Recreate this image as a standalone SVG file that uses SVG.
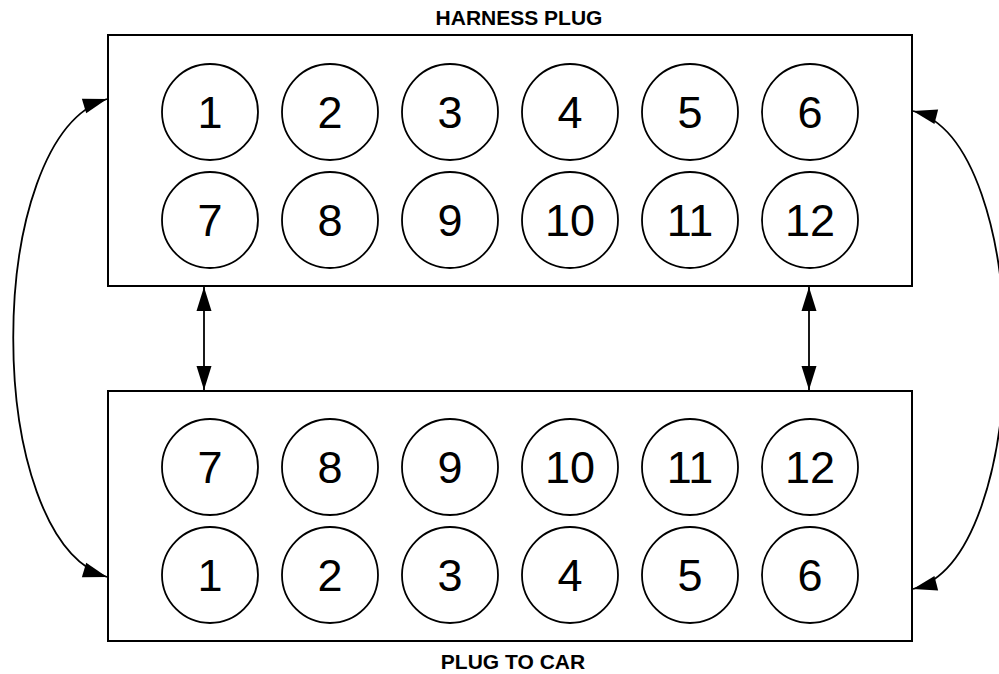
<svg xmlns="http://www.w3.org/2000/svg" width="999" height="674" viewBox="0 0 999 674">
<style>
.box{fill:#fff;stroke:#000;stroke-width:2}
.pin{fill:#fff;stroke:#000;stroke-width:1.8}
.num{font-family:"Liberation Sans",Arial,sans-serif;font-size:45px;text-anchor:middle;fill:#000}
.title{font-family:"Liberation Sans",Arial,sans-serif;font-size:21px;font-weight:bold;text-anchor:middle;fill:#000}
.conn{fill:none;stroke:#000;stroke-width:1.8;marker-start:url(#ah);marker-end:url(#ah)}
</style>
<defs>
<marker id="ah" markerUnits="userSpaceOnUse" markerWidth="26" markerHeight="17" refX="24" refY="7.5" orient="auto-start-reverse" overflow="visible">
<path d="M0,0 L24,7.5 L0,15 Z" fill="#000"/>
</marker>
</defs>
<rect width="999" height="674" fill="#fff"/>
<g id="harness-plug">
<rect class="box" x="108" y="35" width="804" height="251"/>
<text class="title" x="519" y="25">HARNESS PLUG</text>
<circle class="pin" cx="210" cy="112" r="48"/><text class="num" x="210" y="128">1</text>
<circle class="pin" cx="330" cy="112" r="48"/><text class="num" x="330" y="128">2</text>
<circle class="pin" cx="450" cy="112" r="48"/><text class="num" x="450" y="128">3</text>
<circle class="pin" cx="570" cy="112" r="48"/><text class="num" x="570" y="128">4</text>
<circle class="pin" cx="690" cy="112" r="48"/><text class="num" x="690" y="128">5</text>
<circle class="pin" cx="810" cy="112" r="48"/><text class="num" x="810" y="128">6</text>
<circle class="pin" cx="210" cy="220" r="48"/><text class="num" x="210" y="236">7</text>
<circle class="pin" cx="330" cy="220" r="48"/><text class="num" x="330" y="236">8</text>
<circle class="pin" cx="450" cy="220" r="48"/><text class="num" x="450" y="236">9</text>
<circle class="pin" cx="570" cy="220" r="48"/><text class="num" x="570" y="236">10</text>
<circle class="pin" cx="690" cy="220" r="48"/><text class="num" x="690" y="236">11</text>
<circle class="pin" cx="810" cy="220" r="48"/><text class="num" x="810" y="236">12</text>
</g>
<g id="plug-to-car">
<rect class="box" x="108" y="391" width="804" height="250"/>
<text class="title" x="513" y="669">PLUG TO CAR</text>
<circle class="pin" cx="210" cy="467" r="48"/><text class="num" x="210" y="483">7</text>
<circle class="pin" cx="330" cy="467" r="48"/><text class="num" x="330" y="483">8</text>
<circle class="pin" cx="450" cy="467" r="48"/><text class="num" x="450" y="483">9</text>
<circle class="pin" cx="570" cy="467" r="48"/><text class="num" x="570" y="483">10</text>
<circle class="pin" cx="690" cy="467" r="48"/><text class="num" x="690" y="483">11</text>
<circle class="pin" cx="810" cy="467" r="48"/><text class="num" x="810" y="483">12</text>
<circle class="pin" cx="210" cy="575" r="48"/><text class="num" x="210" y="591">1</text>
<circle class="pin" cx="330" cy="575" r="48"/><text class="num" x="330" y="591">2</text>
<circle class="pin" cx="450" cy="575" r="48"/><text class="num" x="450" y="591">3</text>
<circle class="pin" cx="570" cy="575" r="48"/><text class="num" x="570" y="591">4</text>
<circle class="pin" cx="690" cy="575" r="48"/><text class="num" x="690" y="591">5</text>
<circle class="pin" cx="810" cy="575" r="48"/><text class="num" x="810" y="591">6</text>
</g>
<g id="connectors">
<path class="conn" d="M107,99 C-18,137 -18,539 107,577"/>
<path class="conn" d="M913,111 C1035,141.5 1035,558.5 913,589"/>
<path class="conn" d="M204,287 L204,390"/>
<path class="conn" d="M809,287 L809,390"/>
</g>
</svg>
